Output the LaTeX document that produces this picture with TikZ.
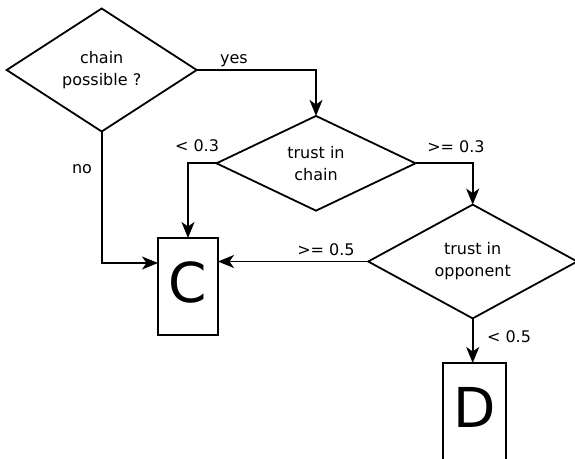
\documentclass[tikz,border=0pt]{standalone}
\usepackage{fontspec}
\setmainfont{DejaVu Sans}
\usetikzlibrary{shapes.geometric,arrows.meta}
\begin{document}
\begin{tikzpicture}[x=1pt,y=-1pt,
  line width=1.8pt,
  dec/.style={diamond, draw, outer sep=0pt, inner sep=0pt, align=center,
    font=\fontsize{16}{22}\selectfont},
  box/.style={draw, outer sep=0pt, inner sep=0pt, text depth=9pt,
    font=\fontsize{55}{55}\selectfont},
  lbl/.style={font=\fontsize{16}{16}\selectfont, anchor=base, inner sep=0pt},
  arr/.style={-{Stealth[length=16pt,width=13pt,inset=4.5pt]}}]
\useasboundingbox (0,0) rectangle (575,458);
\clip (0,0) rectangle (575,458);
\node[dec, minimum width=190pt, minimum height=123pt] (d1) at (101.7,70) {chain\\possible ?};
\node[dec, minimum width=199pt, minimum height=94.7pt] (d2) at (316,163.3) {trust in\\chain};
\node[dec, minimum width=209pt, minimum height=109pt] (d3) at (472.7,261.5) {trust in\\opponent};
\node[box, minimum width=60pt, minimum height=97pt] (C) at (188,286.5) {C};
\node[box, minimum width=63pt, minimum height=97pt] (D) at (474.3,411.5) {D};
\draw[arr] (d1.east) -| (d2.north);
\draw[arr] (d1.south) |- ([yshift=23.5pt]C.west);
\draw[arr] (d2.west) -| (C.north);
\draw[arr] (d2.east) -| (d3.north);
\draw[arr] (d3.west) -- (d3.west -| C.east);
\draw[arr] (d3.south) -- (d3.south |- D.north);
\node[lbl] (lyes) at (234,63) {yes};
\node[lbl] (lno) at (82,173) {no};
\node[lbl] (l1) at (197,151.7) {< 0.3};
\node[lbl] (l2) at (456,152) {>= 0.3};
\node[lbl] (l3) at (326,255) {>= 0.5};
\node[lbl] (l4) at (509,342) {< 0.5};
\end{tikzpicture}
\end{document}
